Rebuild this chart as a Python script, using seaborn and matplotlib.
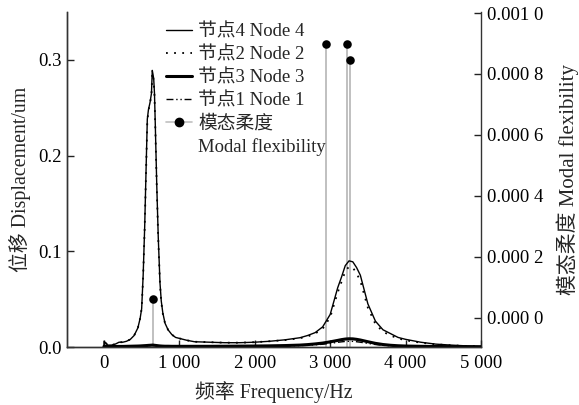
import matplotlib
matplotlib.use("Agg")
import matplotlib.pyplot as plt
import seaborn as sns
import pandas as pd
from matplotlib.lines import Line2D
from matplotlib.ticker import FuncFormatter, FixedLocator

sns.set_theme(style="ticks")
plt.rcParams['font.family'] = ['Liberation Serif', 'Noto Sans CJK SC']
plt.rcParams['axes.unicode_minus'] = False

freq = [0, 1, 50, 100, 150, 200, 250, 300, 350, 400, 450, 480, 500, 520, 540, 560, 575,
        590, 610, 630, 641, 650, 660, 670, 680, 700, 720, 743, 760, 780, 809, 850, 900,
        950, 1000, 1100, 1200, 1400, 1600, 1800, 2000, 2200, 2400, 2600, 2700, 2800, 2900,
        3000, 3100, 3150, 3200, 3250, 3300, 3350, 3400, 3500, 3600, 3700, 3800, 3900, 4000,
        4200, 4400, 4600, 4800, 5000]

node4 = [0.0, 0.006, 0.002, 0.002, 0.003, 0.005, 0.005, 0.006, 0.008, 0.012, 0.020, 0.030,
         0.040, 0.075, 0.125, 0.190, 0.238, 0.248, 0.255, 0.265, 0.289, 0.285, 0.280, 0.265,
         0.235, 0.170, 0.115, 0.067, 0.048, 0.036, 0.025, 0.018, 0.013, 0.010, 0.009, 0.007,
         0.0055, 0.005, 0.0045, 0.0045, 0.005, 0.006, 0.0075, 0.0097, 0.012, 0.015, 0.021,
         0.034, 0.062, 0.073, 0.085, 0.090, 0.089, 0.083, 0.075, 0.045, 0.027, 0.018, 0.014,
         0.010, 0.008, 0.005, 0.003, 0.002, 0.0012, 0.0008]

node2 = [0.0, 0.006, 0.002, 0.002, 0.003, 0.005, 0.005, 0.006, 0.008, 0.012, 0.020, 0.030,
         0.040, 0.074, 0.124, 0.188, 0.236, 0.247, 0.254, 0.264, 0.286, 0.283, 0.278, 0.263,
         0.233, 0.168, 0.113, 0.066, 0.047, 0.035, 0.025, 0.018, 0.013, 0.010, 0.009, 0.007,
         0.0055, 0.005, 0.0045, 0.0045, 0.005, 0.006, 0.0072, 0.0092, 0.011, 0.014, 0.019,
         0.031, 0.057, 0.068, 0.079, 0.084, 0.083, 0.077, 0.069, 0.041, 0.024, 0.016, 0.012,
         0.009, 0.007, 0.0045, 0.0028, 0.0018, 0.0011, 0.0007]

node3 = [0.0, 0.0008, 0.0005, 0.0005, 0.0005, 0.0006, 0.0006, 0.0007, 0.0008, 0.0009, 0.0010,
         0.0011, 0.0012, 0.0013, 0.0014, 0.0015, 0.0016, 0.0017, 0.0018, 0.0019, 0.0020,
         0.0020, 0.0019, 0.0018, 0.0017, 0.0015, 0.0013, 0.0011, 0.0010, 0.0009, 0.0008,
         0.0008, 0.0007, 0.0007, 0.0007, 0.0007, 0.0007, 0.0007, 0.0008, 0.0009, 0.0010,
         0.0012, 0.0015, 0.0020, 0.0025, 0.0032, 0.0041, 0.0054, 0.0069, 0.0077, 0.0083,
         0.0086, 0.0085, 0.0080, 0.0073, 0.0055, 0.0038, 0.0026, 0.0018, 0.0013, 0.0010,
         0.0007, 0.0005, 0.0004, 0.0003, 0.0002]

node1 = [0.0, 0.0006, 0.0003, 0.0003, 0.0003, 0.0004, 0.0004, 0.0005, 0.0006, 0.0007, 0.0008,
         0.0009, 0.0010, 0.0011, 0.0012, 0.0013, 0.0014, 0.0015, 0.0015, 0.0016, 0.0016,
         0.0016, 0.0016, 0.0015, 0.0014, 0.0012, 0.0010, 0.0009, 0.0008, 0.0007, 0.0006,
         0.0006, 0.0005, 0.0005, 0.0005, 0.0005, 0.0005, 0.0005, 0.0006, 0.0007, 0.0008,
         0.0009, 0.0011, 0.0015, 0.0018, 0.0023, 0.0029, 0.0038, 0.0049, 0.0054, 0.0058,
         0.0060, 0.0059, 0.0055, 0.0050, 0.0038, 0.0026, 0.0018, 0.0013, 0.0009, 0.0007,
         0.0005, 0.0004, 0.0003, 0.0002, 0.0001]

modal_freq = [655, 2944, 3223, 3263]
modal_flex = [0.0000625, 0.000898, 0.000898, 0.000845]

x_ticks = [0, 1000, 2000, 3000, 4000, 5000]
y_ticks = [0.0, 0.1, 0.2, 0.3]
y2_ticks = [0.0, 0.0002, 0.0004, 0.0006, 0.0008, 0.0010]

labels = ["节点4 Node 4", "节点2 Node 2", "节点3 Node 3", "节点1 Node 1"]

FS = 13.5
LFS = 14.3

fig = plt.figure(figsize=(5.79, 4.05), dpi=100)
ax = fig.add_axes([67/579, 1-347/405, (481-67)/579, (347-12)/405])
ax2 = ax.twinx()
ax.set_zorder(2)
ax.patch.set_visible(False)

ylo2 = -0.0000954
# stems on the right axis
ax2.vlines(modal_freq, ylo2, modal_flex, color="#c0c0c0", lw=1.4, zorder=1)
sns.scatterplot(x=modal_freq, y=modal_flex, ax=ax2, color="black", s=38,
                edgecolor="black", linewidth=0, zorder=3, legend=False)

df = pd.DataFrame({"f": freq, "n4": node4, "n2": node2, "n3": node3, "n1": node1})
sns.lineplot(data=df, x="f", y="n3", ax=ax, color="black", lw=2.2, label=labels[2])
sns.lineplot(data=df, x="f", y="n1", ax=ax, color="black", lw=1.0, label=labels[3])
ax.lines[-1].set_dashes([5, 2, 1, 2, 1, 2])
sns.lineplot(data=df, x="f", y="n2", ax=ax, color="black", lw=1.3, label=labels[1])
ax.lines[-1].set_dashes([1, 3.5])
sns.lineplot(data=df, x="f", y="n4", ax=ax, color="black", lw=1.0, label=labels[0])

ax.set_xlim(-490, 5000)
ax.set_ylim(0, 0.350)
ax2.set_ylim(ylo2, 0.0010033)

ax.xaxis.set_major_locator(FixedLocator(x_ticks))
ax.yaxis.set_major_locator(FixedLocator(y_ticks))
ax2.yaxis.set_major_locator(FixedLocator(y2_ticks))
ax.xaxis.set_major_formatter(FuncFormatter(lambda v, p: f"{int(v):,}".replace(",", " ")))
ax.yaxis.set_major_formatter(FuncFormatter(lambda v, p: f"{v:.1f}"))

def f2(v, p):
    s = f"{v:.4f}"
    return s[:5] + " " + s[5:]
ax2.yaxis.set_major_formatter(FuncFormatter(f2))

for a in (ax, ax2):
    a.tick_params(direction="in", length=5, width=1, colors="#222222", labelsize=FS,
                  labelcolor="black", pad=4)
    for s in a.spines.values():
        s.set_color("#333333")
        s.set_linewidth(1.0)
    a.spines["top"].set_visible(False)
ax.spines["right"].set_visible(False)
ax.tick_params(axis="x", pad=6)

ax.set_xlabel("频率 Frequency/Hz", fontsize=LFS, labelpad=6)
ax.set_ylabel("位移 Displacement/um", fontsize=LFS, labelpad=5)
ax2.set_ylabel("模态柔度 Modal flexibility", fontsize=15, labelpad=10)

h = [Line2D([], [], color="black", lw=1.0),
     Line2D([], [], color="black", lw=1.3, dashes=[1, 3.5]),
     Line2D([], [], color="black", lw=2.2),
     Line2D([], [], color="black", lw=1.0, dashes=[5, 2, 1, 2, 1, 2]),
     Line2D([], [], color="#c0c0c0", lw=1.2, marker="o", markersize=6,
            markerfacecolor="black", markeredgecolor="black"),
     Line2D([], [], color="none")]
lab = labels + ["模态柔度", "Modal flexibility"]
ax.legend(h, lab, loc="upper left", bbox_to_anchor=(0.235, 0.971), frameon=False,
          fontsize=FS, handlelength=1.4, handletextpad=0.3, labelspacing=0.3,
          borderaxespad=0, borderpad=0.1)

fig.savefig("out.png", dpi=100)
